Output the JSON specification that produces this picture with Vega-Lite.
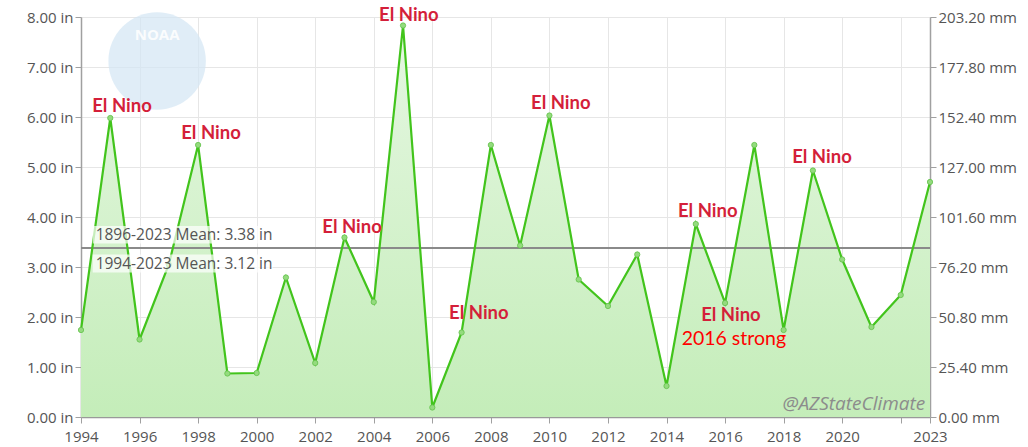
{
  "$schema": "https://vega.github.io/schema/vega-lite/v6.json",
  "width": 849,
  "height": 400,
  "autosize": "none",
  "padding": {"left": 81, "top": 17, "right": 98, "bottom": 30},
  "background": "white",
  "config": {
    "view": {"stroke": null},
    "axis": {"labelFont": "Open Sans", "labelFontSize": 15, "labelColor": "#555555", "domainColor": "#a0a0a0", "tickColor": "#a0a0a0", "gridColor": "#e6e6e6", "title": null, "labelFlush": false, "labelOverlap": false}
  },
  "datasets": {
    "rain": [
      {"year": 1994, "inches": 1.74}, {"year": 1995, "inches": 5.98}, {"year": 1996, "inches": 1.55},
      {"year": 1997, "inches": 3.05}, {"year": 1998, "inches": 5.44}, {"year": 1999, "inches": 0.87},
      {"year": 2000, "inches": 0.88}, {"year": 2001, "inches": 2.79}, {"year": 2002, "inches": 1.08},
      {"year": 2003, "inches": 3.59}, {"year": 2004, "inches": 2.30}, {"year": 2005, "inches": 7.83},
      {"year": 2006, "inches": 0.19}, {"year": 2007, "inches": 1.69}, {"year": 2008, "inches": 5.44},
      {"year": 2009, "inches": 3.43}, {"year": 2010, "inches": 6.03}, {"year": 2011, "inches": 2.75},
      {"year": 2012, "inches": 2.22}, {"year": 2013, "inches": 3.25}, {"year": 2014, "inches": 0.62},
      {"year": 2015, "inches": 3.86}, {"year": 2016, "inches": 2.28}, {"year": 2017, "inches": 5.44},
      {"year": 2018, "inches": 1.74}, {"year": 2019, "inches": 4.93}, {"year": 2020, "inches": 3.15},
      {"year": 2021, "inches": 1.80}, {"year": 2022, "inches": 2.44}, {"year": 2023, "inches": 4.70}
    ],
    "elnino": [
      {"x": 1995.40, "y": 6.23, "label": "El Nino"},
      {"x": 1998.44, "y": 5.68, "label": "El Nino"},
      {"x": 2003.26, "y": 3.80, "label": "El Nino"},
      {"x": 2005.20, "y": 8.05, "label": "El Nino"},
      {"x": 2007.59, "y": 2.08, "label": "El Nino"},
      {"x": 2010.39, "y": 6.29, "label": "El Nino"},
      {"x": 2015.41, "y": 4.12, "label": "El Nino"},
      {"x": 2016.20, "y": 2.04, "label": "El Nino"},
      {"x": 2019.31, "y": 5.21, "label": "El Nino"}
    ],
    "means": [
      {"x": 1994.50, "y": 3.64, "label": "1896-2023 Mean: 3.38 in"},
      {"x": 1994.50, "y": 3.07, "label": "1994-2023 Mean: 3.12 in"}
    ],
    "meanboxes": [
      {"x1": 1994.40, "x2": 2000.55, "y1": 3.47, "y2": 3.82},
      {"x1": 1994.40, "x2": 2000.55, "y1": 2.89, "y2": 3.25}
    ],
    "notes": [
      {"x": 2016.30, "y": 1.56, "label": "2016 strong"}
    ],
    "credit": [
      {"x": 2022.84, "y": 0.27, "label": "@AZStateClimate"}
    ],
    "logo": [
      {"x": 1996.6, "y": 7.12, "label": "NOAA"}
    ],
    "meanline": [
      {"mean": 3.38}
    ]
  },
  "layer": [
    {
      "data": {"name": "logo"},
      "mark": {"type": "point", "filled": true, "shape": "circle", "size": 9500, "color": "#d3e5f3", "opacity": 0.7},
      "encoding": {
        "x": {"field": "x", "type": "quantitative", "scale": {"domain": [1994, 2023], "nice": false, "zero": false},
          "axis": {"values": [1994,1996,1998,2000,2002,2004,2006,2008,2010,2012,2014,2016,2018,2020,2022,2023],
            "labelExpr": "datum.value == 2022 ? '' : format(datum.value, 'd')", "grid": true, "tickSize": 6, "labelPadding": 6, "domainColor": "#999999", "domainWidth": 1.5}},
        "y": {"field": "y", "type": "quantitative", "scale": {"domain": [0, 8], "nice": false},
          "axis": {"values": [0,1,2,3,4,5,6,7,8], "labelExpr": "format(datum.value, '.2f') + ' in'", "grid": true, "tickSize": 6, "labelPadding": 2, "domainWidth": 1.5}}
      }
    },
    {
      "data": {"name": "logo"},
      "mark": {"type": "text", "font": "Open Sans", "fontWeight": "bold", "fontSize": 15, "color": "#ffffff", "opacity": 0.85, "dy": -26},
      "encoding": {
        "x": {"field": "x", "type": "quantitative"},
        "y": {"field": "y", "type": "quantitative", "axis": null},
        "text": {"field": "label"}
      }
    },
    {
      "data": {"name": "rain"},
      "mark": {"type": "area", "color": {"gradient": "linear", "x1": 0, "y1": 0, "x2": 0, "y2": 1,
        "stops": [{"offset": 0, "color": "#e6f7e2"}, {"offset": 1, "color": "#c4edb9"}]}},
      "encoding": {
        "x": {"field": "year", "type": "quantitative"},
        "y": {"field": "inches", "type": "quantitative", "axis": null}
      }
    },
    {
      "data": {"name": "meanline"},
      "mark": {"type": "rule", "color": "#8a8a8a", "strokeWidth": 2},
      "encoding": {"y": {"field": "mean", "type": "quantitative", "axis": null}}
    },
    {
      "data": {"name": "rain"},
      "mark": {"type": "line", "color": "#42c41c", "strokeWidth": 2.2},
      "encoding": {
        "x": {"field": "year", "type": "quantitative"},
        "y": {"field": "inches", "type": "quantitative",
          "axis": {"orient": "right", "values": [0,1,2,3,4,5,6,7,8], "labelExpr": "format(datum.value * 25.4, '.2f') + ' mm'", "grid": false, "tickSize": 6, "labelPadding": 2, "domainWidth": 1.5}}
      }
    },
    {
      "data": {"name": "rain"},
      "mark": {"type": "point", "filled": true, "shape": "circle", "size": 28, "color": "#94db7e", "stroke": "#62c24a", "strokeWidth": 0.8, "opacity": 1},
      "encoding": {
        "x": {"field": "year", "type": "quantitative"},
        "y": {"field": "inches", "type": "quantitative", "axis": null}
      }
    },
    {
      "data": {"name": "meanboxes"},
      "mark": {"type": "rect", "color": "#ffffff", "opacity": 0.7},
      "encoding": {
        "x": {"field": "x1", "type": "quantitative"},
        "x2": {"field": "x2"},
        "y": {"field": "y1", "type": "quantitative", "axis": null},
        "y2": {"field": "y2"}
      }
    },
    {
      "data": {"name": "means"},
      "mark": {"type": "text", "align": "left", "baseline": "middle", "font": "Open Sans", "fontSize": 15.5, "color": "#555555"},
      "encoding": {
        "x": {"field": "x", "type": "quantitative"},
        "y": {"field": "y", "type": "quantitative", "axis": null},
        "text": {"field": "label"}
      }
    },
    {
      "data": {"name": "elnino"},
      "mark": {"type": "text", "align": "center", "baseline": "middle", "font": "Lato", "fontWeight": "bold", "fontSize": 18.5, "color": "#d41f3a"},
      "encoding": {
        "x": {"field": "x", "type": "quantitative"},
        "y": {"field": "y", "type": "quantitative", "axis": null},
        "text": {"field": "label"}
      }
    },
    {
      "data": {"name": "notes"},
      "mark": {"type": "text", "align": "center", "baseline": "middle", "font": "Lato", "fontSize": 19.5, "color": "#ff0000"},
      "encoding": {
        "x": {"field": "x", "type": "quantitative"},
        "y": {"field": "y", "type": "quantitative", "axis": null},
        "text": {"field": "label"}
      }
    },
    {
      "data": {"name": "credit"},
      "mark": {"type": "text", "align": "right", "baseline": "middle", "font": "Open Sans", "fontStyle": "italic", "fontSize": 19, "color": "#8c8c8c"},
      "encoding": {
        "x": {"field": "x", "type": "quantitative"},
        "y": {"field": "y", "type": "quantitative", "axis": null},
        "text": {"field": "label"}
      }
    }
  ],
  "resolve": {"axis": {"y": "independent"}}
}
